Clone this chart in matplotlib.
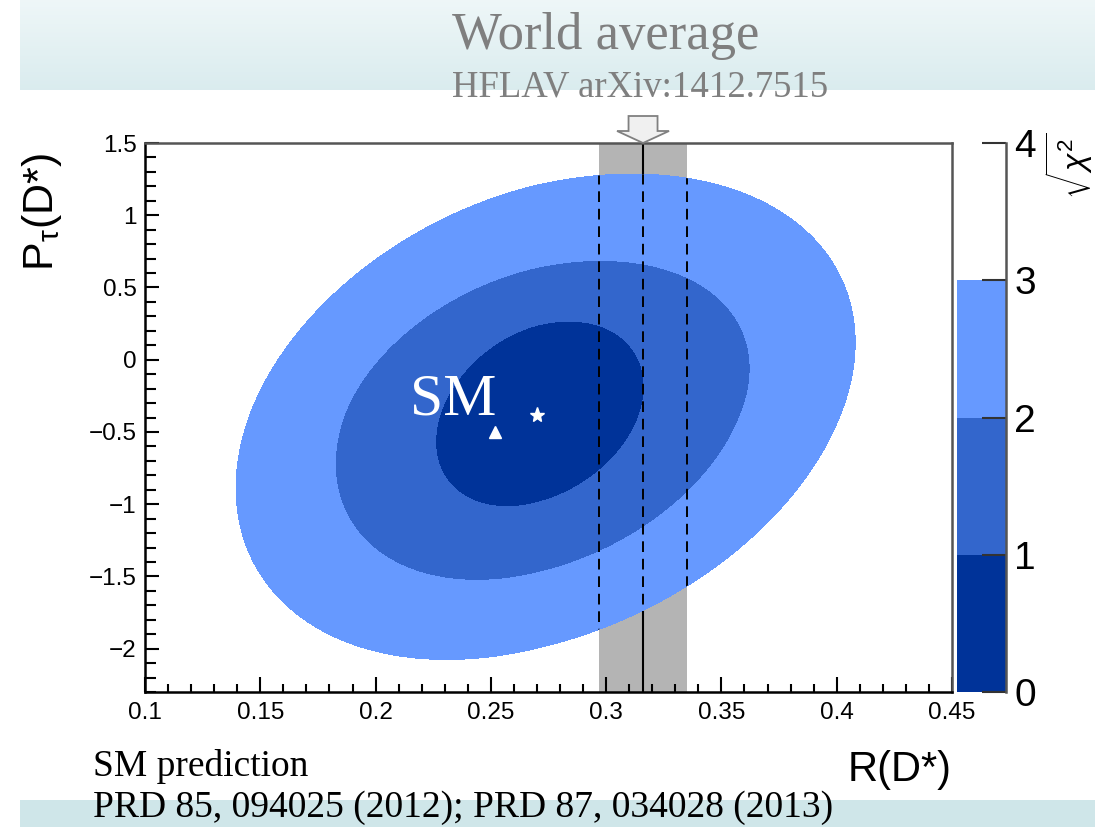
import numpy as np
import matplotlib
matplotlib.use('Agg')
import matplotlib.pyplot as plt
import matplotlib.patches as patches
import matplotlib.transforms as transforms
from matplotlib.ticker import MultipleLocator

plt.rcParams['font.family'] = ['Liberation Sans', 'DejaVu Sans']
plt.rcParams['mathtext.fontset'] = 'custom'
plt.rcParams['mathtext.rm'] = 'Liberation Sans'
plt.rcParams['mathtext.it'] = 'Liberation Sans:italic'

# measurement: centre, errors (down / up) and correlation
r_meas = 0.270
r_err_dn, r_err_up = 0.0435, 0.046
p_meas = -0.38
rho = 0.30

# sqrt(chi2) contour levels, with the P_tau width
levels = [1, 2, 3]
p_err_up = [0.64, 0.53, 0.555]
p_err_dn = [0.63, 0.57, 0.565]
level_colors = ['#003399', '#3366cc', '#6699ff']
cbar_ticks = [0, 1, 2, 3, 4]

# SM prediction
r_sm, p_sm = 0.252, -0.497

# world average of R(D*)
r_wa, r_wa_err = 0.316, 0.019

fig = plt.figure(figsize=(10.95, 8.27), dpi=100)

# header and footer bands
hdr = fig.add_axes([20/1095, 1 - 90/827, 1 - 20/1095, 90/827], zorder=-5)
grad = np.linspace(0, 1, 100).reshape(-1, 1)
c_top = np.array([0.935, 0.968, 0.972])
c_bot = np.array([0.855, 0.925, 0.935])
img = c_top[None, None, :] * (1 - grad[:, :, None]) + c_bot[None, None, :] * grad[:, :, None]
hdr.imshow(img, aspect='auto', extent=[0, 1, 0, 1])
hdr.axis('off')
fig.patches.append(patches.Rectangle((20/1095, 0), 1, 27/827, transform=fig.transFigure,
                                     facecolor='#cfe6e9', edgecolor='none', zorder=-5))

ax = fig.add_axes([145/1095, 1 - 692/827, 807/1095, 549/827])

# world average band
ax.axvspan(r_wa - r_wa_err, r_wa + r_wa_err, color='#b4b4b4', zorder=1, lw=0)
ax.axvline(r_wa, color='black', lw=1.5, zorder=1.5)

# chi2 contours, outermost first
x = np.linspace(0.1, 0.45, 900)
y = np.linspace(-2.3, 1.5, 900)
X, Y = np.meshgrid(x, y)
dx = (X - r_meas) / np.where(X > r_meas, r_err_up, r_err_dn)
clip_path = None
for i in reversed(range(len(levels))):
    dy = (Y - p_meas) / np.where(Y > p_meas, p_err_up[i], p_err_dn[i])
    chi = np.sqrt((dx**2 - 2*rho*dx*dy + dy**2) / (1 - rho**2))
    cs = ax.contourf(X, Y, chi, levels=[0, levels[i]], colors=[level_colors[i]], zorder=2 + 0.1*(3 - i))
    if clip_path is None:
        clip_path = cs.get_paths()[0]

for xv in [r_wa - r_wa_err, r_wa, r_wa + r_wa_err]:
    ln = ax.axvline(xv, color='black', lw=1.4, ls=(0, (5.5, 3.5)), zorder=3)
    ln.set_clip_path(clip_path, ax.transData)

ax.plot(r_meas, p_meas, marker='*', color='white', ms=11, ls='none', zorder=4)
ax.plot(r_sm, p_sm, marker='^', color='white', ms=9, ls='none', zorder=4)
ax.text(0.2336, -0.283, 'SM', color='white', fontsize=43, family='Liberation Serif',
        ha='center', va='center', zorder=5)

ax.set_xlim(0.1, 0.45)
ax.set_ylim(-2.3, 1.5)
ax.xaxis.set_minor_locator(MultipleLocator(0.01))
ax.yaxis.set_minor_locator(MultipleLocator(0.1))
ax.set_xticks(np.arange(0.1, 0.451, 0.05))
ax.set_xticklabels(['0.1', '0.15', '0.2', '0.25', '0.3', '0.35', '0.4', '0.45'])
ax.set_yticks([-2, -1.5, -1, -0.5, 0, 0.5, 1, 1.5])
ax.set_yticklabels(['\u22122', '\u22121.5', '\u22121', '\u22120.5', '0', '0.5', '1', '1.5'])
ax.tick_params(which='both', direction='in', top=False, right=False, labelsize=17.5, width=1.5)
ax.tick_params(axis='x', which='major', length=11, pad=7)
ax.tick_params(axis='x', which='minor', length=5.5)
ax.tick_params(axis='y', which='major', length=10, pad=6)
ax.tick_params(axis='y', which='minor', length=8)
for s in ['left', 'bottom']:
    ax.spines[s].set_linewidth(1.8)
for s in ['top', 'right']:
    ax.spines[s].set_linewidth(1.8)
    ax.spines[s].set_color('#555555')

ax.text(1.0, -0.105, 'R(D*)', transform=ax.transAxes, ha='right', va='top', fontsize=30)
fig.text(42/1095, 1 - 212/827, r'P$_{\mathrm{\tau}}$(D*)', rotation=90, ha='center', va='center',
         fontsize=31)

# arrow above the band
arrow_tr = fig.dpi_scale_trans + transforms.ScaledTranslation(
    r_wa, 1.0, transforms.blended_transform_factory(ax.transData, ax.transAxes))
verts = [(0, 0), (-0.26, 0.12), (-0.145, 0.12), (-0.145, 0.27),
         (0.145, 0.27), (0.145, 0.12), (0.26, 0.12)]
ax.add_patch(patches.Polygon(verts, closed=True, transform=arrow_tr, clip_on=False,
                             facecolor='#f0f0f0', edgecolor='#808080', lw=1.3, zorder=6))

# colour scale
cax = fig.add_axes([957/1095, 1 - 692/827, 49/1095, 549/827])
bounds = [0] + levels
for lo, hi, c in zip(bounds[:-1], bounds[1:], level_colors):
    cax.axhspan(lo, hi, color=c, lw=0)
cax.set_ylim(0, 4)
cax.set_xlim(0, 1)
cax.set_xticks([])
cax.yaxis.tick_right()
cax.set_yticks(cbar_ticks)
cax.set_yticklabels([str(t) for t in cbar_ticks])
cax.tick_params(axis='y', direction='in', length=17, width=1.5, color='#333333',
                labelsize=28, pad=6)
for s in ['left', 'top', 'bottom']:
    cax.spines[s].set_visible(False)
cax.spines['right'].set_color('#555555')
cax.spines['right'].set_linewidth(1.8)
fig.text(1069/1095, 1 - 166/827, r'$\sqrt{\chi^2}$', rotation=90, ha='center', va='center',
         fontsize=23)

# header and footer texts
fig.text(452/1095, 1 - 36/827, 'World average', family='Liberation Serif', fontsize=38,
         color='#7f7f7f', ha='left', va='center')
fig.text(452/1095, 1 - 87/827, 'HFLAV arXiv:1412.7515', family='Liberation Serif', fontsize=26.5,
         color='#7f7f7f', ha='left', va='center')
fig.text(93/1095, 1 - 767/827, 'SM prediction', family='Liberation Serif', fontsize=27,
         ha='left', va='center')
fig.text(93/1095, 1 - 808/827, 'PRD 85, 094025 (2012); PRD 87, 034028 (2013)',
         family='Liberation Serif', fontsize=27, ha='left', va='center')

fig.savefig('out.png', dpi=100)
